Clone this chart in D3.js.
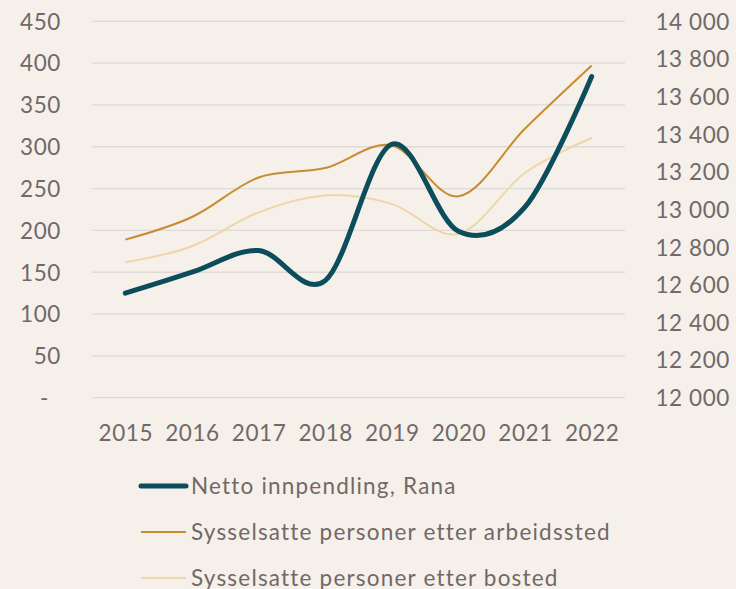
<!DOCTYPE html>
<html>
<head>
<meta charset="utf-8">
<script src="https://cdn.jsdelivr.net/npm/d3@7"></script>
<style>
  html, body { margin: 0; padding: 0; background: #f6f0ea; }
  svg { display: block; }
  text { font-family: Lato, "Open Sans", sans-serif; fill: #716868; letter-spacing: 0.6px; }
</style>
</head>
<body>
<svg id="chart" width="736" height="589"></svg>
<script>
const years = ["2015","2016","2017","2018","2019","2020","2021","2022"];
const nettoInnpendling = [125, 150, 176, 140, 303, 199, 228, 384];
const etterArbeidssted = [12840, 12960, 13170, 13220, 13340, 13070, 13430, 13765];
const etterBosted = [12720, 12805, 12985, 13075, 13030, 12870, 13195, 13380];
const leftTicks = [0, 50, 100, 150, 200, 250, 300, 350, 400, 450];
const rightTicks = [12000, 12200, 12400, 12600, 12800, 13000, 13200, 13400, 13600, 13800, 14000];
const seriesNames = ["Netto innpendling, Rana", "Sysselsatte personer etter arbeidssted", "Sysselsatte personer etter bosted"];

const svg = d3.select("#chart");
const plot = {left: 92, right: 625, top: 21.3, bottom: 397.7};
const FS = 22.5;

const x = d3.scalePoint().domain(years).range([plot.left, plot.right]).padding(0.5);
const yL = d3.scaleLinear().domain([0, 450]).range([plot.bottom, plot.top]);
const yR = d3.scaleLinear().domain([12000, 14000]).range([plot.bottom, plot.top]);

// gridlines
svg.append("g").selectAll("line").data(leftTicks).join("line")
  .attr("x1", plot.left).attr("x2", plot.right)
  .attr("y1", d => yL(d)).attr("y2", d => yL(d))
  .attr("stroke", "#dedad8").attr("stroke-width", 1.3);

// left axis
const fmtL = d => d === 0 ? "-" : String(d);
const gL = svg.append("g").attr("transform", `translate(${61},0)`)
  .call(d3.axisLeft(yL).tickValues(leftTicks).tickFormat(fmtL).tickSize(0).tickPadding(0));
gL.select(".domain").remove();
gL.selectAll("text").attr("font-size", FS).attr("dy", "0.35em").attr("fill", "#716868")
  .attr("dx", d => d === 0 ? -12 : 0);

// right axis
const fmtR = d => d3.format(",")(d).replace(",", " ");
const gR = svg.append("g").attr("transform", `translate(${730},0)`)
  .call(d3.axisLeft(yR).tickValues(rightTicks).tickFormat(fmtR).tickSize(0).tickPadding(0));
gR.select(".domain").remove();
gR.selectAll("text").attr("font-size", FS).attr("dy", "0.35em").attr("fill", "#716868");

// x axis
const gX = svg.append("g").attr("transform", `translate(0,${433})`)
  .call(d3.axisBottom(x).tickSize(0).tickPadding(0));
gX.select(".domain").remove();
gX.selectAll("text").attr("font-size", FS).attr("dy", "0.35em").attr("fill", "#716868");

const curve = d3.curveCardinal.tension(0);

const lineL = d3.line().x((d, i) => x(years[i])).y(d => yL(d)).curve(curve);
const lineR = d3.line().x((d, i) => x(years[i])).y(d => yR(d)).curve(curve);

svg.append("path").datum(etterBosted).attr("d", lineR)
  .attr("fill", "none").attr("stroke", "#efd6aa").attr("stroke-width", 2);
svg.append("path").datum(etterArbeidssted).attr("d", lineR)
  .attr("fill", "none").attr("stroke", "#c98b30").attr("stroke-width", 2);
svg.append("path").datum(nettoInnpendling).attr("d", lineL)
  .attr("fill", "none").attr("stroke", "#0b4d5b").attr("stroke-width", 5).attr("stroke-linecap", "round");

// legend
const legendStyles = [
  {color: "#0b4d5b", width: 5, cap: "round"},
  {color: "#c98b30", width: 2, cap: "butt"},
  {color: "#efd6aa", width: 2, cap: "butt"}
];
const legendY = [486, 532, 578];
const lg = svg.append("g");
seriesNames.forEach((name, i) => {
  const s = legendStyles[i];
  lg.append("line").attr("x1", 141).attr("x2", 186).attr("y1", legendY[i]).attr("y2", legendY[i])
    .attr("stroke", s.color).attr("stroke-width", s.width).attr("stroke-linecap", s.cap);
  lg.append("text").attr("x", 191).attr("y", legendY[i]).attr("dy", "0.35em")
    .attr("font-size", FS).style("letter-spacing", "1.2px").text(name);
});
</script>
</body>
</html>
